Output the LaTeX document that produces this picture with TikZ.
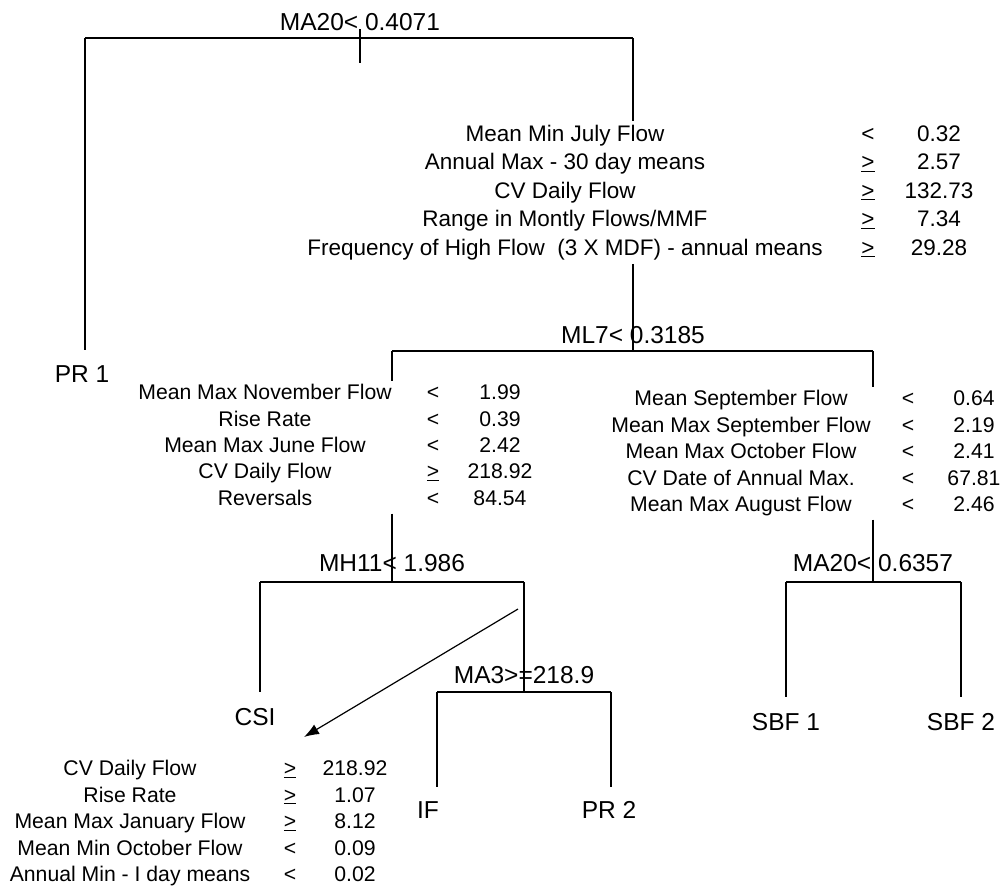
\documentclass[tikz,border=0pt]{standalone}
\usepackage{fontspec}
\setmainfont{Liberation Sans}
\usetikzlibrary{arrows.meta}
\usetikzlibrary{calc}

\begin{document}
\begin{tikzpicture}[x=1pt,y=-1pt]
\tikzstyle{branch}=[line width=1.4pt]
\tikzstyle{split}=[inner sep=0pt,font=\fontsize{24.5}{26}\selectfont]
\tikzstyle{leaf}=[inner sep=0pt,font=\fontsize{24.5}{26}\selectfont]
\tikzstyle{toprules}=[inner sep=0pt,font=\fontsize{22.5}{28.5}\selectfont]
\tikzstyle{rules}=[inner sep=0pt,font=\fontsize{21.2}{26.4}\selectfont]

\useasboundingbox (0,0) rectangle (1002,887);

% ROOT SPLIT
\coordinate (n1) at (360,38);
\coordinate (n1L) at (85,38);
\coordinate (n1R) at (633,38);
\node[split] (n1lbl) at (360,22) {MA20< 0.4071};
\draw[branch] (n1L) -- (n1R);
\draw[branch] (n1) ++(0,-9) -- ++(0,34);

% PR 1
\coordinate (pr1stem) at (85,350);
\node[leaf] (pr1) at (82,374) {PR 1};
\draw[branch] (n1L) -- (pr1stem);

% RULES UNDER ROOT
\node[toprules] (r1name) at (565,192.4) {\begin{tabular}{@{}c@{}}Mean Min July Flow\\ Annual Max - 30 day means\\ CV Daily Flow\\ Range in Montly Flows/MMF\\ Frequency of High Flow~~(3 X MDF) - annual means\end{tabular}};
\node[toprules] (r1op) at (868,192.4) {\begin{tabular}{@{}c@{}}<\\ \underline{>}\\ \underline{>}\\ \underline{>}\\ \underline{>}\end{tabular}};
\node[toprules] (r1val) at (939,192.4) {\begin{tabular}{@{}c@{}}0.32\\ 2.57\\ 132.73\\ 7.34\\ 29.28\end{tabular}};
\draw[branch] (n1R) -- (n1R |- r1name.north);

% ML7 SPLIT
\coordinate (n2) at (633,351);
\coordinate (n2L) at (392,351);
\coordinate (n2R) at (873,351);
\node[split] (n2lbl) at (633,335) {ML7< 0.3185};
\draw[branch] (n1R |- r1name.south) -- (n2);
\draw[branch] (n2L) -- (n2R);

% LEFT RULES
\node[rules] (r2name) at (265,447.3) {\begin{tabular}{@{}c@{}}Mean Max November Flow\\ Rise Rate\\ Mean Max June Flow\\ CV Daily Flow\\ Reversals\end{tabular}};
\node[rules] (r2op) at (433,447.3) {\begin{tabular}{@{}c@{}}<\\ <\\ <\\ \underline{>}\\ <\end{tabular}};
\node[rules] (r2val) at (500,447.3) {\begin{tabular}{@{}c@{}}1.99\\ 0.39\\ 2.42\\ 218.92\\ 84.54\end{tabular}};
\draw[branch] (n2L) -- (n2L |- r2name.north);

% RIGHT RULES
\node[rules] (r3name) at (741,453.4) {\begin{tabular}{@{}c@{}}Mean September Flow\\ Mean Max September Flow\\ Mean Max October Flow\\ CV Date of Annual Max.\\ Mean Max August Flow\end{tabular}};
\node[rules] (r3op) at (908,453.4) {\begin{tabular}{@{}c@{}}<\\ <\\ <\\ <\\ <\end{tabular}};
\node[rules] (r3val) at (974,453.4) {\begin{tabular}{@{}c@{}}0.64\\ 2.19\\ 2.41\\ 67.81\\ 2.46\end{tabular}};
\draw[branch] (n2R) -- (n2R |- r3name.north);

% MH11 SPLIT
\coordinate (n3) at (392,582);
\coordinate (n3L) at (260,582);
\coordinate (n3R) at (524,582);
\node[split] (n3lbl) at (392,563) {MH11< 1.986};
\draw[branch] (n2L |- r2name.south) -- (n3);
\draw[branch] (n3L) -- (n3R);

% CSI
\coordinate (csistem) at (260,692);
\node[leaf] (csi) at (255,717) {CSI};
\draw[branch] (n3L) -- (csistem);

% MA3 SPLIT
\coordinate (n5) at (524,692);
\coordinate (n5L) at (437,692);
\coordinate (n5R) at (611,692);
\node[split] (n5lbl) at (524,675) {MA3>=218.9};
\draw[branch] (n3R) -- (n5);
\draw[branch] (n5L) -- (n5R);

% IF AND PR 2
\coordinate (ifstem) at (437,787);
\coordinate (pr2stem) at (611,787);
\node[leaf] (if) at (428,810) {IF};
\node[leaf] (pr2) at (609,810) {PR 2};
\draw[branch] (n5L) -- (ifstem);
\draw[branch] (n5R) -- (pr2stem);

% MA20 SPLIT (RIGHT)
\coordinate (n4) at (873,582);
\coordinate (n4L) at (786,582);
\coordinate (n4R) at (961,582);
\node[split] (n4lbl) at (873,563) {MA20< 0.6357};
\draw[branch] (n2R |- r3name.south) -- (n4);
\draw[branch] (n4L) -- (n4R);

% SBF 1 AND SBF 2
\coordinate (sbf1stem) at (786,697);
\coordinate (sbf2stem) at (961,697);
\node[leaf] (sbf1) at (786,722) {SBF 1};
\node[leaf] (sbf2) at (961,722) {SBF 2};
\draw[branch] (n4L) -- (sbf1stem);
\draw[branch] (n4R) -- (sbf2stem);

% CSI RULES
\node[rules] (r4name) at (130,823.4) {\begin{tabular}{@{}c@{}}CV Daily Flow\\ Rise Rate\\ Mean Max January Flow\\ Mean Min October Flow\\ Annual Min - I day means\end{tabular}};
\node[rules] (r4op) at (290,823.4) {\begin{tabular}{@{}c@{}}\underline{>}\\ \underline{>}\\ \underline{>}\\ <\\ <\end{tabular}};
\node[rules] (r4val) at (355,823.4) {\begin{tabular}{@{}c@{}}218.92\\ 1.07\\ 8.12\\ 0.09\\ 0.02\end{tabular}};

% ARROW TO CSI RULES
\coordinate (arrowtail) at (518,609);
\coordinate (arrowtip) at (304,737);
\draw [line width=1.2pt,-{Latex[length=15pt,width=11pt]}] (arrowtail) -- (arrowtip);

\end{tikzpicture}
\end{document}
